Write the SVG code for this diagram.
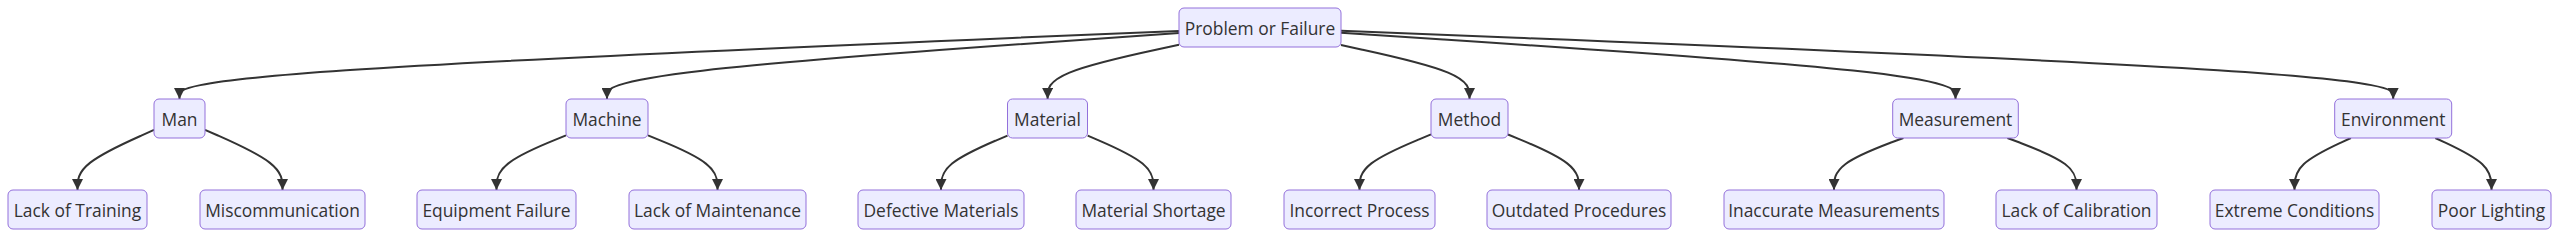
<svg xmlns="http://www.w3.org/2000/svg" width="2560" height="238" viewBox="0 0 2560 238">
<defs>
<marker id="arrow" viewBox="0 0 10 10" refX="10" refY="5" markerUnits="userSpaceOnUse" markerWidth="11" markerHeight="11" orient="auto">
<path d="M0,0 L10,5 L0,10 z" fill="#333333"/>
</marker>
<style>
.node rect{fill:#ECECFF;stroke:#9370DB;stroke-width:1}
.node text{font-family:"Open Sans","Liberation Sans",sans-serif;font-size:17.4px;fill:#333333;text-anchor:middle;dominant-baseline:central}
.edge{fill:none;stroke:#333333;stroke-width:2;marker-end:url(#arrow)}
</style>
</defs>
<rect width="2560" height="238" fill="#ffffff"/>
<g id="connectors">
<path class="edge" d="M1179,30.9 L1012.4,37.9 C845.8,44.9 512.7,59 346.1,70.3 C179.5,81.67 179.5,90.33 179.5,94.67 L179.5,99"/>
<path class="edge" d="M1179,33.1 L1083.7,39.75 C988.3,46.4 797.7,59.7 702.3,70.7 C607,81.67 607,90.33 607,94.67 L607,99"/>
<path class="edge" d="M1179,44.8 L1157.1,49.5 C1135.2,54.2 1091.4,63.6 1069.5,72.6 C1047.6,81.67 1047.6,90.33 1047.6,94.67 L1047.6,99"/>
<path class="edge" d="M1341,45.1 L1362.4,49.75 C1383.8,54.4 1426.7,63.7 1448.1,72.7 C1469.5,81.67 1469.5,90.33 1469.5,94.67 L1469.5,99"/>
<path class="edge" d="M1341,32.8 L1443.4,39.5 C1545.8,46.2 1750.7,59.6 1853.1,70.6 C1955.5,81.67 1955.5,90.33 1955.5,94.67 L1955.5,99"/>
<path class="edge" d="M1341,30.75 L1516.4,37.8 C1691.7,44.8 2042.5,58.9 2217.8,70.3 C2393.2,81.67 2393.2,90.33 2393.2,94.67 L2393.2,99"/>
<path class="edge" d="M154,129.9 L141.25,135.6 C128.5,141.3 103,152.6 90.25,162.65 C77.5,172.67 77.5,181.33 77.5,185.67 L77.5,190"/>
<path class="edge" d="M205,129.8 L217.9,135.5 C230.8,141.2 256.7,152.6 269.6,162.6 C282.5,172.67 282.5,181.33 282.5,185.67 L282.5,190"/>
<path class="edge" d="M566,135.4 L554.4,140.2 C542.8,144.9 519.7,154.5 508.1,163.6 C496.5,172.67 496.5,181.33 496.5,185.67 L496.5,190"/>
<path class="edge" d="M648,135.4 L659.6,140.2 C671.2,144.9 694.3,154.5 705.9,163.6 C717.5,172.67 717.5,181.33 717.5,185.67 L717.5,190"/>
<path class="edge" d="M1007.5,135.6 L996.4,140.3 C985.3,145.1 963.2,154.5 952.1,163.6 C941,172.67 941,181.33 941,185.67 L941,190"/>
<path class="edge" d="M1087.7,135.7 L1098.7,140.4 C1109.6,145.1 1131.6,154.6 1142.5,163.6 C1153.5,172.67 1153.5,181.33 1153.5,185.67 L1153.5,190"/>
<path class="edge" d="M1431,134.4 L1419.1,139.3 C1407.2,144.3 1383.3,154.1 1371.4,163.4 C1359.5,172.67 1359.5,181.33 1359.5,185.67 L1359.5,190"/>
<path class="edge" d="M1508,134.5 L1519.8,139.4 C1531.7,144.3 1555.3,154.2 1567.2,163.4 C1579,172.67 1579,181.33 1579,185.67 L1579,190"/>
<path class="edge" d="M1903.4,138 L1891.8,142.3 C1880.3,146.7 1857.1,155.3 1845.6,164 C1834,172.67 1834,181.33 1834,185.67 L1834,190"/>
<path class="edge" d="M2007.4,138 L2018.9,142.3 C2030.4,146.7 2053.5,155.3 2065,164 C2076.5,172.67 2076.5,181.33 2076.5,185.67 L2076.5,190"/>
<path class="edge" d="M2350.9,138 L2341.5,142.3 C2332.1,146.7 2313.3,155.3 2303.9,164 C2294.5,172.67 2294.5,181.33 2294.5,185.67 L2294.5,190"/>
<path class="edge" d="M2435.3,138 L2444.7,142.3 C2454,146.7 2472.8,155.3 2482.1,164 C2491.5,172.67 2491.5,181.33 2491.5,185.67 L2491.5,190"/>
</g>
<g id="root" class="node"><rect x="1179" y="8" width="162" height="39" rx="5"/><text x="1260" y="27.5">Problem or Failure</text></g>
<g id="man" class="node"><rect x="154" y="99" width="51" height="39" rx="5"/><text x="179.5" y="118.5">Man</text></g>
<g id="machine" class="node"><rect x="566" y="99" width="82" height="39" rx="5"/><text x="607" y="118.5">Machine</text></g>
<g id="material" class="node"><rect x="1007.5" y="99" width="80" height="39" rx="5"/><text x="1047.5" y="118.5">Material</text></g>
<g id="method" class="node"><rect x="1431" y="99" width="77" height="39" rx="5"/><text x="1469.5" y="118.5">Method</text></g>
<g id="measurement" class="node"><rect x="1892.7" y="99" width="125.6" height="39" rx="5"/><text x="1955.5" y="118.5">Measurement</text></g>
<g id="environment" class="node"><rect x="2334.7" y="99" width="117" height="39" rx="5"/><text x="2393.2" y="118.5">Environment</text></g>
<g id="lack-training" class="node"><rect x="8" y="190" width="139" height="39" rx="5"/><text x="77.5" y="209.5">Lack of Training</text></g>
<g id="miscommunication" class="node"><rect x="200" y="190" width="165" height="39" rx="5"/><text x="282.5" y="209.5">Miscommunication</text></g>
<g id="equipment-failure" class="node"><rect x="417" y="190" width="159" height="39" rx="5"/><text x="496.5" y="209.5">Equipment Failure</text></g>
<g id="lack-maintenance" class="node"><rect x="629" y="190" width="177" height="39" rx="5"/><text x="717.5" y="209.5">Lack of Maintenance</text></g>
<g id="defective-materials" class="node"><rect x="858" y="190" width="166" height="39" rx="5"/><text x="941" y="209.5">Defective Materials</text></g>
<g id="material-shortage" class="node"><rect x="1076" y="190" width="155" height="39" rx="5"/><text x="1153.5" y="209.5">Material Shortage</text></g>
<g id="incorrect-process" class="node"><rect x="1284" y="190" width="151" height="39" rx="5"/><text x="1359.5" y="209.5">Incorrect Process</text></g>
<g id="outdated-procedures" class="node"><rect x="1487" y="190" width="184" height="39" rx="5"/><text x="1579" y="209.5">Outdated Procedures</text></g>
<g id="inaccurate-measurements" class="node"><rect x="1724" y="190" width="220" height="39" rx="5"/><text x="1834" y="209.5">Inaccurate Measurements</text></g>
<g id="lack-calibration" class="node"><rect x="1996" y="190" width="161" height="39" rx="5"/><text x="2076.5" y="209.5">Lack of Calibration</text></g>
<g id="extreme-conditions" class="node"><rect x="2210" y="190" width="169" height="39" rx="5"/><text x="2294.5" y="209.5">Extreme Conditions</text></g>
<g id="poor-lighting" class="node"><rect x="2432" y="190" width="119" height="39" rx="5"/><text x="2491.5" y="209.5">Poor Lighting</text></g>
</svg>
